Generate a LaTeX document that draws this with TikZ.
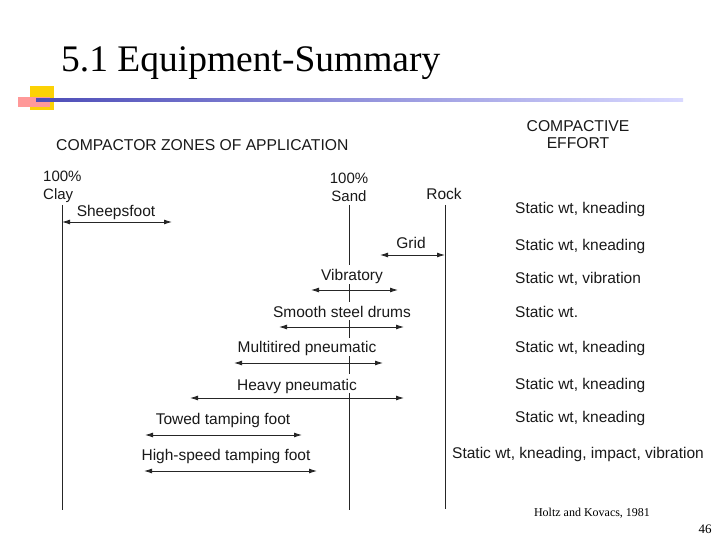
\documentclass[tikz,border=0pt]{standalone}
\usepackage{fontspec}
\setmainfont{Liberation Sans}
\newfontfamily\serifx{Liberation Serif}
\usetikzlibrary{arrows.meta}
\tikzset{
 zone/.style={line width=0.9pt,draw=black!85,{Latex[length=8pt,width=5pt]}-{Latex[length=8pt,width=5pt]}},
 vline/.style={line width=0.9pt,draw=black!85},
 lbl/.style={font=\fontsize{15.5}{17}\selectfont,text=black!90,inner sep=0pt},
}
\begin{document}
\begin{tikzpicture}[x=1pt,y=-1pt]
\useasboundingbox (0,0) rectangle (720,540);
\fill[white] (0,0) rectangle (720,540);
% header decoration
\node[font=\serifx\fontsize{37.5}{40}\selectfont,anchor=west,inner sep=0pt] (title) at (61,63) {5.1 Equipment-Summary};
\fill[yellow!70!orange] (30,86) rectangle (54,110);
\fill[red!40] (18,97) rectangle (50,107);
\shade[left color=blue!60!black!70,right color=blue!15] (36,99) rectangle (683,102);
\coordinate (d1) at (36,100);
% headings
\node[lbl,font=\fontsize{15.7}{17}\selectfont,anchor=west] (hz) at (56,145) {COMPACTOR ZONES OF APPLICATION};
\node[lbl,font=\fontsize{15.7}{17}\selectfont,align=center] (he) at (578,135) {COMPACTIVE\\EFFORT};
\node[lbl,align=left,anchor=west,font=\fontsize{15}{18}\selectfont] (clay) at (43,187) {100\%\\Clay};
\node[lbl,align=center,font=\fontsize{15}{18}\selectfont] (sand) at (349,187) {100\%\\Sand};
\node[lbl] (rock) at (444,194) {Rock};
% vertical lines
\coordinate (c0) at (62,205); \coordinate (c1) at (62,510);
\coordinate (s0) at (349,205); \coordinate (s1) at (349,510);
\coordinate (r0) at (445,205); \coordinate (r1) at (445,509);
\draw[vline] (c0) -- (c1);
\draw[vline] (r0) -- (r1);
\draw[vline] (349,205) -- (349,265);
\draw[vline] (349,284) -- (349,302);
\draw[vline] (349,320) -- (349,338);
\draw[vline] (349,356) -- (349,374);
\draw[vline] (349,393) -- (s1);
% zones
\coordinate (a1) at (62,222); \coordinate (b1) at (172,222);
\draw[zone] (a1) -- (b1);
\node[lbl] (l1) at (116,212) {Sheepsfoot};
\coordinate (a2) at (380,255); \coordinate (b2) at (445,255);
\draw[zone] (a2) -- (b2);
\node[lbl] (l2) at (411,243) {Grid};
\coordinate (a3) at (311,290); \coordinate (b3) at (398,290);
\draw[zone] (a3) -- (b3);
\node[lbl] (l3) at (352,276) {Vibratory};
\coordinate (a4) at (279,327); \coordinate (b4) at (404,327);
\draw[zone] (a4) -- (b4);
\node[lbl] (l4) at (342,312) {Smooth steel drums};
\coordinate (a5) at (234,363); \coordinate (b5) at (383,363);
\draw[zone] (a5) -- (b5);
\node[lbl] (l5) at (307,348) {Multitired pneumatic};
\coordinate (a6) at (190,398); \coordinate (b6) at (404,398);
\draw[zone] (a6) -- (b6);
\node[lbl] (l6) at (297,386) {Heavy pneumatic};
\coordinate (a7) at (145,435); \coordinate (b7) at (302,435);
\draw[zone] (a7) -- (b7);
\node[lbl] (l7) at (223,420) {Towed tamping foot};
\coordinate (a8) at (144,471); \coordinate (b8) at (317,471);
\draw[zone] (a8) -- (b8);
\node[lbl] (l8) at (226,456) {High-speed tamping foot};
% efforts
\node[lbl,anchor=west] (e1) at (515,209) {Static wt, kneading};
\node[lbl,anchor=west] (e2) at (515,246) {Static wt, kneading};
\node[lbl,anchor=west] (e3) at (515,279) {Static wt, vibration};
\node[lbl,anchor=west] (e4) at (515,312) {Static wt.};
\node[lbl,anchor=west] (e5) at (515,348) {Static wt, kneading};
\node[lbl,anchor=west] (e6) at (515,385) {Static wt, kneading};
\node[lbl,anchor=west] (e7) at (515,418) {Static wt, kneading};
\node[lbl,anchor=west] (e8) at (452,454) {Static wt, kneading, impact, vibration};
% footer
\node[font=\serifx\fontsize{12}{13}\selectfont,inner sep=0pt] (cite) at (592,513) {Holtz and Kovacs, 1981};
\node[font=\serifx\fontsize{13}{14}\selectfont,inner sep=0pt] (pg) at (705,529) {46};
\end{tikzpicture}
\end{document}
